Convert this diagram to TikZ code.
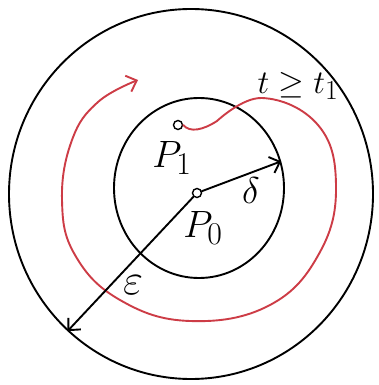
\documentclass[tikz,border=0pt]{standalone}
\usepackage{graphicx}
\usetikzlibrary{arrows.meta,shapes.geometric}
\definecolor{curvered}{RGB}{205,60,70}
\newcommand{\bigmath}[2]{\scalebox{#1}{\fontsize{24.88}{25}\selectfont$#2$}}
\tikzset{
  pen/.style={line width=1.9pt, line cap=round, line join=round},
  tip/.style={-{Straight Barb[length=9pt,width=17pt,line width=1.9pt]}},
  region/.style={draw, ellipse, line width=1.9pt, inner sep=0pt},
  dot/.style={circle, draw, line width=1.4pt, inner sep=0pt, minimum size=9pt, fill=white},
  lbl/.style={inner sep=0pt}
}
\begin{document}
\begin{tikzpicture}[x=1pt,y=-1pt]
\useasboundingbox (0,0) rectangle (378,385);
\fill[white] (0,0) rectangle (378,385);
\node[region, minimum width=364pt, minimum height=370pt] (outer) at (191,194) {};
\node[region, minimum width=170pt, minimum height=180pt] (inner) at (199,188) {};
\node[dot] (P0) at (197,193) {};
\node[dot] (P1) at (178,125) {};
% trajectory
\draw[pen, curvered, tip] (P1.east) .. controls (190,133) and (203,130) .. (217,121)
  plot[smooth, tension=0.7] coordinates {(217,121) (262,98) (318,125) (336,185)
  (320,252) (270,305) (190,321) (120,300) (75,255) (62,200) (72,140) (98,102) (138,80)};
% radii
\draw[pen, tip] (P0) -- (inner.18);
\draw[pen, tip] (P0) -- (outer.228);
% labels
\node[lbl] (l1) at (172,158) {\bigmath{1.53}{P_1}};
\node[lbl] (l0) at (203,228) {\bigmath{1.53}{P_0}};
\node[lbl] (ld) at (251,191) {\bigmath{1.5}{\delta}};
\node[lbl] (le) at (133,285) {\bigmath{1.75}{\varepsilon}};
\node[lbl] (lt) at (298,86) {\bigmath{1.33}{t\geq t_1}};
\end{tikzpicture}
\end{document}
